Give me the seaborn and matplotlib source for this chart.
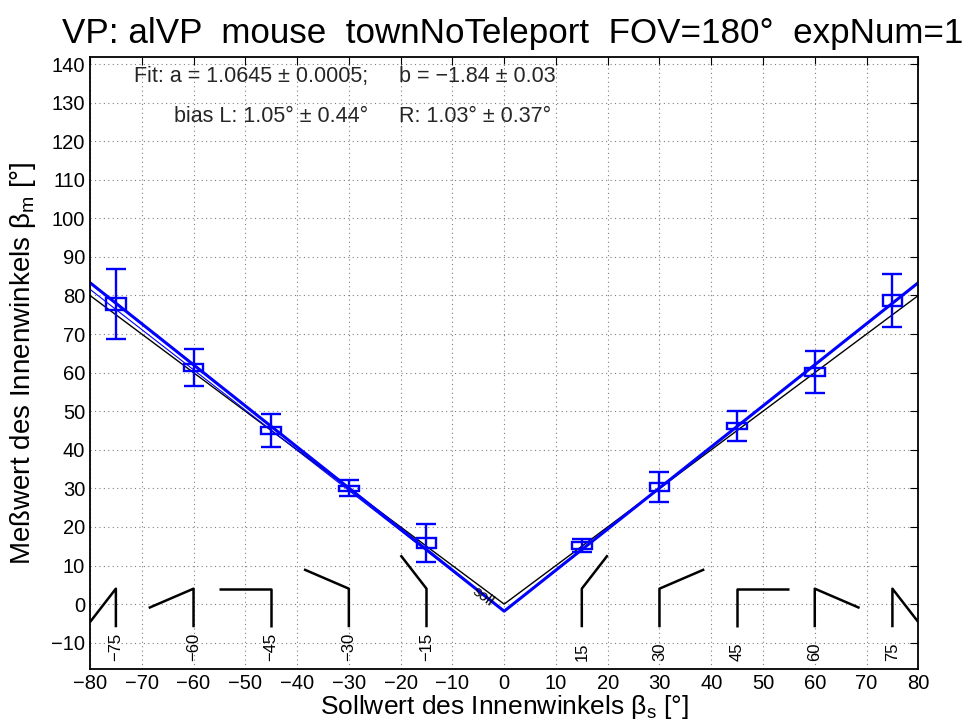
import numpy as np
import pandas as pd
import matplotlib
matplotlib.use("Agg")
import matplotlib.pyplot as plt
from matplotlib.patches import Rectangle
import seaborn as sns

# Target angles (deg) and measured interior angles
soll = [-75, -60, -45, -30, -15, 15, 30, 45, 60, 75]
mess_mean = [77.8, 61.3, 45.0, 30.0, 15.8, 15.2, 30.3, 46.2, 60.2, 78.7]
mess_err = [9.0, 4.8, 4.2, 2.1, 5.0, 1.7, 3.9, 3.85, 5.5, 6.9]
mess_box = [1.6, 1.0, 0.95, 0.7, 1.3, 0.8, 1.1, 0.8, 1.1, 1.35]

# Fit parameters of the V-shaped model  y = a*|x| + b
fit_a, fit_b = 1.0645, -1.84
left_a, left_b = 1.043, -1.84

x_ticks = list(range(-80, 81, 10))
y_ticks = list(range(-10, 141, 10))

title = "VP: alVP  mouse  townNoTeleport  FOV=180°  expNum=1"
fit_left = ["Fit: a = 1.0645 ± 0.0005;", "bias L: 1.05° ± 0.44°"]
fit_right = ["b = −1.84 ± 0.03", "R: 1.03° ± 0.37°"]

sns.set_theme(style="white")
plt.rcParams["font.family"] = ["Liberation Sans", "DejaVu Sans"]
plt.rcParams["mathtext.fontset"] = "custom"
plt.rcParams["mathtext.rm"] = "Liberation Sans"
plt.rcParams["mathtext.it"] = "Liberation Sans"
plt.rcParams["axes.unicode_minus"] = True

fig = plt.figure(figsize=(9.70, 7.27), dpi=100)
ax = fig.add_axes([90 / 970, 1 - 669.3 / 727, 828.3 / 970, 612.6 / 727])

# reference line y = |x| and the fitted V
xs = np.array([-80, 0, 80])
lines = pd.DataFrame({
    "x": np.concatenate([xs, xs, xs[:2]]),
    "y": np.concatenate([np.abs(xs), fit_a * np.abs(xs) + fit_b,
                         left_a * np.abs(xs[:2]) + left_b]),
    "kind": ["soll"] * 3 + ["fit"] * 3 + ["left"] * 2,
})
sns.lineplot(data=lines[lines.kind == "soll"], x="x", y="y", color="black",
             lw=1.0, estimator=None, sort=False, ax=ax)
sns.lineplot(data=lines[lines.kind == "left"], x="x", y="y", color="blue",
             lw=0.8, estimator=None, sort=False, ax=ax)
sns.lineplot(data=lines[lines.kind == "fit"], x="x", y="y", color="blue",
             lw=2.2, estimator=None, sort=False, ax=ax)

# measurements: error bars plus boxes
ax.errorbar(soll, mess_mean, yerr=mess_err, fmt="none", ecolor="blue",
            elinewidth=1.7, capsize=7.5, capthick=1.7, zorder=4)
for x, m, h in zip(soll, mess_mean, mess_box):
    ax.add_patch(Rectangle((x - 1.9, m - h), 3.8, 2 * h, fill=False,
                           edgecolor="blue", lw=1.7, zorder=5))

# angle pictograms along the bottom
for a in soll:
    phi = np.deg2rad(90 - 2 * abs(a))
    s = -1 if a < 0 else 1
    ax.plot([a, a, a + s * 10 * np.cos(phi)], [-6, 4, 4 + 10 * np.sin(phi)],
            color="black", lw=1.8, solid_capstyle="butt", zorder=3)
    lab = f"{a}".replace("-", "−")
    ax.text(a, -14.7, lab, rotation=90, ha="center", va="bottom",
            fontsize=12, color="black")

ax.text(-4.0, 2.0, "soll", rotation=-37, ha="center", va="center",
        fontsize=11, color="black", zorder=2)

# fit annotation
for i, (l, r) in enumerate(zip(fit_left, fit_right)):
    yy = 136.7 - 10.2 * i
    ax.text(-26.3, yy, l, ha="right", va="center", fontsize=15.5)
    ax.text(-20.3, yy, r, ha="left", va="center", fontsize=15.5)

ax.set_xlim(-80, 80)
ax.set_ylim(-16.9, 141.9)
ax.set_xticks(x_ticks)
ax.set_yticks(y_ticks)
ax.set_xticklabels([str(t).replace("-", "−") for t in x_ticks])
ax.set_yticklabels([str(t).replace("-", "−") for t in y_ticks])
ax.grid(True, color="0.5", linestyle=(0, (1, 3)), linewidth=0.8)
ax.tick_params(direction="in", length=6, width=0.8, top=True, right=True,
               labelsize=14.5, pad=3.5, colors="black")
for sp in ax.spines.values():
    sp.set_visible(True)
    sp.set_color("black")
    sp.set_linewidth(1.3)

ax.set_xlabel("Sollwert des Innenwinkels β$_{\\rm s}$ [°]", fontsize=19,
              color="black")
ax.set_ylabel("Meßwert des Innenwinkels β$_{\\rm m}$ [°]", fontsize=20,
              color="black")
ax.xaxis.set_label_coords(0.5, (669.3 - 693) / 612.6)
ax.yaxis.set_label_coords((38 - 90) / 828.3, 0.5)

fig.text(513 / 970, 1 - 33 / 727, title, ha="center", va="center",
         fontsize=25.2, color="black")

fig.savefig("out.png", dpi=100, facecolor="white")
